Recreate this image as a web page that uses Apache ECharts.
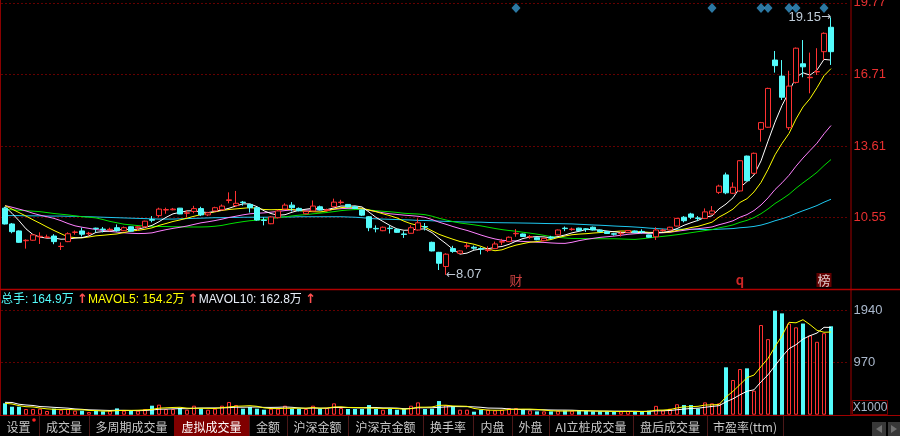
<!DOCTYPE html>
<html><head><meta charset="utf-8">
<script src="https://cdn.jsdelivr.net/npm/echarts@6/dist/echarts.min.js"></script>
<style>html,body{margin:0;padding:0;background:#000;}#c{width:900px;height:436px;}</style>
</head><body><div id="c"></div>
<script>
// ---------- data ----------
const opens  = [10.94,10.26,9.96,9.54,9.56,9.71,9.68,9.74,9.29,9.50,9.90,9.96,9.84,10.08,10.04,10.00,10.10,9.97,10.14,10.10,
 10.14,10.45,10.62,10.86,10.87,10.94,10.72,10.80,10.92,10.65,10.82,10.87,11.27,11.05,11.20,11.10,10.96,10.43,10.27,10.53,
 10.90,11.07,10.93,10.70,10.82,11.00,10.84,11.00,11.18,11.10,11.00,10.86,10.57,10.07,9.97,10.08,10.03,9.83,9.86,10.00,
 10.15,9.47,9.04,8.43,9.20,9.00,9.30,9.26,9.20,9.12,9.20,9.48,9.50,9.84,9.83,9.70,9.67,9.54,9.70,9.79,
 10.08,10.02,10.08,10.05,10.12,10.00,9.93,9.84,9.84,9.90,9.96,9.94,9.79,9.71,9.98,10.00,10.17,10.55,10.69,10.52,
 10.50,10.69,11.62,12.37,11.58,11.68,13.18,12.44,14.33,14.42,17.31,16.62,14.40,16.35,17.15,16.55,16.80,17.67,18.72];
const closes = [10.26,9.93,9.47,9.56,9.79,9.73,9.70,9.50,9.30,9.84,9.91,9.82,9.86,10.06,10.02,10.03,9.97,10.10,9.95,10.14,
 10.38,10.42,10.90,10.88,10.90,10.69,10.74,10.92,10.65,10.74,10.96,11.03,11.30,11.15,11.18,10.96,10.43,10.41,10.56,10.82,
 11.07,10.96,10.83,10.80,11.03,10.86,10.87,11.20,11.20,10.99,10.93,10.64,10.10,10.05,10.12,10.06,9.90,9.81,10.10,10.31,
 10.13,9.10,8.57,8.96,9.08,9.10,9.32,9.22,9.18,9.15,9.40,9.50,9.69,9.86,9.72,9.72,9.58,9.64,9.65,10.00,
 10.06,10.04,9.97,10.03,10.00,9.93,9.85,9.82,9.86,9.98,9.90,9.92,9.69,10.00,10.00,10.12,10.50,10.40,10.55,10.50,
 10.78,10.82,11.89,11.60,11.84,12.98,12.12,13.30,14.62,16.09,17.07,15.71,16.19,17.82,17.02,16.57,16.82,18.46,17.67];
const lows   = [10.24,9.86,9.45,9.20,9.54,9.40,9.65,9.39,9.14,9.48,9.80,9.72,9.75,9.90,9.90,9.95,9.93,9.95,9.93,9.97,
 10.10,10.33,10.55,10.70,10.85,10.68,10.55,10.72,10.60,10.60,10.80,10.85,11.15,11.00,11.05,10.75,10.40,10.20,10.25,10.50,
 10.88,10.80,10.80,10.68,10.80,10.84,10.80,10.98,11.10,10.97,10.90,10.60,9.95,9.90,9.95,9.85,9.88,9.66,9.85,9.98,
 9.98,9.08,8.28,8.07,9.02,8.97,9.20,9.15,8.95,9.05,9.18,9.35,9.48,9.71,9.70,9.62,9.56,9.52,9.60,9.77,
 9.95,9.97,9.95,9.92,9.98,9.90,9.83,9.76,9.72,9.88,9.88,9.85,9.67,9.57,9.92,9.98,10.15,10.33,10.47,10.38,
 10.47,10.67,11.55,11.54,11.55,11.65,12.10,12.40,13.80,14.40,16.77,15.59,14.30,16.30,16.57,15.88,16.67,17.31,17.10];
const highs  = [11.00,10.30,9.98,9.60,9.82,9.90,9.80,9.82,9.47,9.90,9.98,10.10,9.92,10.10,10.13,10.10,10.24,10.15,10.16,10.16,
 10.40,10.60,10.96,10.96,10.95,10.95,10.85,11.04,11.00,10.78,11.00,11.10,11.62,11.68,11.25,11.12,10.98,10.55,10.60,10.87,
 11.15,11.20,10.97,10.82,11.27,11.05,10.92,11.35,11.30,11.12,11.02,10.88,10.60,10.20,10.15,10.20,10.05,9.95,10.20,10.50,
 10.30,9.50,9.06,9.00,9.32,9.12,9.44,9.33,9.26,9.30,9.50,9.62,9.72,10.04,9.85,9.78,9.69,9.66,9.75,10.02,
 10.15,10.10,10.10,10.08,10.15,10.02,9.95,9.88,9.95,10.00,9.98,10.03,9.80,10.12,10.05,10.14,10.52,10.60,10.74,10.60,
 10.93,11.03,11.95,12.47,12.05,13.00,13.20,13.33,14.65,16.12,17.70,17.31,16.85,17.85,18.17,17.63,17.82,18.50,19.15];
// volume, unit: 1000 lots (X1000)
const volumes = [213,149,149,106,106,112,69,112,93,106,75,75,50,75,62,75,118,75,75,75,
 106,168,187,106,106,124,93,168,112,93,112,168,237,180,112,143,112,93,112,112,
 168,112,112,106,168,112,124,212,124,106,106,106,180,106,93,106,93,106,168,230,
 106,112,255,180,162,93,93,56,93,93,81,93,124,124,100,81,62,62,62,75,
 75,75,69,69,62,62,62,50,62,69,62,50,75,165,80,112,195,180,180,115,
 230,212,212,884,647,852,865,448,1673,1410,1940,1890,1700,1630,1700,1480,1360,1521,1649];
// moving-average values before enough bars are on screen
const ma5Head  = [11.00,10.72,10.40,10.05];
const ma10Head = [11.05,10.90,10.75,10.60,10.44,10.29,10.13,9.98,9.84];
const ma20Head = [11.05,10.98,10.90,10.82,10.72,10.64,10.57,10.50,10.40,10.28,10.18,10.12,10.07,10.02,9.98,9.94,9.91,9.88,9.86];
const ma30Head = [10.89,10.87,10.85,10.83,10.81,10.79,10.75,10.71,10.68,10.65,10.61,10.57,10.55,10.52,10.45,10.37,10.31,10.25,10.22,10.19,
 10.17,10.16,10.15,10.15,10.14,10.14,10.13,10.13,10.13];
const ma60Head = [10.62,10.62,10.62,10.61,10.61,10.61,10.60,10.60,10.60,10.59,10.59,10.58,10.57,10.56,
 10.55,10.54,10.53,10.52,10.51,10.50,10.49,10.48,10.47,10.47,10.47,10.48,10.49,10.50,
 10.51,10.52,10.53,10.53,10.54,10.54,10.55,10.55,10.55,10.55,10.55,10.56,10.56,10.56,
 10.57,10.57,10.57,10.57,10.57,10.57,10.57,10.56,10.55,10.53,10.50,10.48,10.47,10.46,10.45,10.44,10.43];
const mavol5Head  = [212,200,168,149];
const mavol10Head = [231,228,195,181,172,152,146,137,130];
const priceTicks = [10.55,13.61,16.71,19.77];
const volTicks = [970,1940];
const signalDays = [73,101,108,109,112,113,117];
const eventLabels = [{day:73,text:'财'},{day:105,text:'q'},{day:117,text:'榜'}];
const lowMark  = {day:63, value:8.07};
const highMark = {day:118, value:19.15};
const tabs = ['设置','成交量','多周期成交量','虚拟成交量','金额','沪深金额','沪深京金额','换手率','内盘','外盘','AI立桩成交量','盘后成交量','市盈率(ttm)'];
const activeTab = '虚拟成交量';

// ---------- styles ----------
const RED = '#ff3232', CYAN = '#54fcfc', GRIDRED = '#a00000', DOTRED = '#c80000';
const FONT = '"Liberation Sans", Arial, "Noto Sans CJK SC", sans-serif';
const CJK = '"Noto Sans CJK SC", "Liberation Sans", sans-serif';
const signalLevel = 19.55, eventLevel = 7.85;
const tabX = [0,39,89,174,249,287,348,423,473,512,549,633,707,783];

// ---------- build ----------
const N = opens.length;
const cats = Array.from({length: N + 2}, (_, i) => String(i));
function movingAvg(vals, n, head) {
  return vals.map((v, i) => {
    if (i < n - 1) return head[i];
    let s = 0; for (let k = i - n + 1; k <= i; k++) s += vals[k];
    return +(s / n).toFixed(3);
  });
}
const candle = opens.map((o, i) => [o, closes[i], lows[i], highs[i]]);
const isUp = i => closes[i] >= opens[i];
const volData = volumes.map((v, i) => ({
  value: v,
  itemStyle: isUp(i) ? {color: '#000', borderColor: RED, borderWidth: 1} : {color: CYAN, borderWidth: 0}
}));
const mavol5 = movingAvg(volumes, 5, mavol5Head);
const mavol10 = movingAvg(volumes, 10, mavol10Head);
const fmtWan = v => (v / 10).toFixed(1) + '万';

function maLine(name, data, color) {
  return {name, type: 'line', xAxisIndex: 0, yAxisIndex: 0, data, symbol: 'none', silent: true,
    lineStyle: {color, width: 1}, z: 3};
}

const graphic = [];
// frame lines
graphic.push({type:'line', shape:{x1:0.5,y1:0,x2:0.5,y2:415}, style:{stroke:'#8a0000', lineWidth:1}});
graphic.push({type:'line', shape:{x1:851,y1:0,x2:851,y2:415}, style:{stroke:GRIDRED, lineWidth:1}});
graphic.push({type:'line', shape:{x1:0,y1:289.5,x2:900,y2:289.5}, style:{stroke:'#b00000', lineWidth:1.5}});
graphic.push({type:'line', shape:{x1:0,y1:415.5,x2:900,y2:415.5}, style:{stroke:GRIDRED, lineWidth:1}});
// volume legend
graphic.push({type:'text', left:1, top:293, style:{
  text: '{a|总手: ' + fmtWan(volumes[N-1]) + ' }{r|↑}{b|MAVOL5: ' + fmtWan(mavol5[N-1]) + ' }{r|↑}{c|MAVOL10: ' + fmtWan(mavol10[N-1]) + ' }{r|↑}',
  rich: {
    a:{fill:CYAN, fontSize:12, fontFamily:FONT},
    b:{fill:'#ffff00', fontSize:12, fontFamily:FONT},
    c:{fill:'#e8eef8', fontSize:12, fontFamily:FONT},
    r:{fill:'#ff5050', fontSize:13, fontWeight:'bold', fontFamily:'DejaVu Sans'}
  }}});
// X1000 box
graphic.push({type:'rect', shape:{x:852.5,y:400.5,width:35,height:14}, style:{fill:'#000', stroke:'#7a0000', lineWidth:1}});
graphic.push({type:'text', x:870, y:408, style:{text:'X1000', fill:'#aab8cc', fontSize:12, fontFamily:FONT, align:'center', verticalAlign:'middle'}});
// tab bar
tabs.forEach((t, k) => {
  const x0 = tabX[k], x1 = tabX[k+1];
  if (t === activeTab) graphic.push({type:'rect', shape:{x:x0, y:416, width:x1 - x0, height:20}, style:{fill:'#800000'}});
  graphic.push({type:'text', x:(x0 + x1) / 2 + (k === 0 ? -1 : 0), y:427, style:{text:t, fill: t === activeTab ? '#ffffff' : '#c8c8c8',
    fontSize:12, fontFamily:CJK, align:'center', verticalAlign:'middle'}});
  graphic.push({type:'line', shape:{x1:x1 + 0.5, y1:416, x2:x1 + 0.5, y2:436}, style:{stroke:'#4a1818', lineWidth:1}});
});
graphic.push({type:'circle', shape:{cx:34, cy:420, r:1.8}, style:{fill:'#ff2020'}});
graphic.push({type:'rect', shape:{x:872, y:422, width:14, height:14}, style:{fill:'#383838'}});
graphic.push({type:'rect', shape:{x:888, y:422, width:12, height:14}, style:{fill:'#383838'}});
graphic.push({type:'polygon', shape:{points:[[876,429],[882,425],[882,433]]}, style:{fill:'#707070'}});
graphic.push({type:'polygon', shape:{points:[[897,429],[891,425],[891,433]]}, style:{fill:'#707070'}});

const gridLine = {color: DOTRED, type: [1, 3], width: 1};
const option = {
  backgroundColor: '#000',
  animation: false,
  grid: [
    {left: 1.5, right: 51.5, top: 0, height: 289},
    {left: 1.5, right: 51.5, top: 300, height: 114.7}
  ],
  xAxis: [
    {type: 'category', gridIndex: 0, data: cats, show: false, boundaryGap: true},
    {type: 'category', gridIndex: 1, data: cats, show: false, boundaryGap: true}
  ],
  yAxis: [
    {type: 'value', gridIndex: 0, min: 7.463, max: 19.893, show: false},
    {type: 'value', gridIndex: 1, min: 0, max: 2139.6, show: false}
  ],
  series: [
    {
      name: 'K', type: 'candlestick', xAxisIndex: 0, yAxisIndex: 0, data: candle, barWidth: 5, z: 4,
      itemStyle: {color: '#000', color0: CYAN, borderColor: RED, borderColor0: CYAN, borderWidth: 1},
      markLine: {
        silent: true, symbol: ['none', 'none'], z: 1,
        lineStyle: gridLine,
        label: {position: 'end', distance: 5, color: '#e83030', fontSize: 13, fontFamily: FONT,
          formatter: p => p.value.toFixed(2)},
        data: priceTicks.map(v => ({yAxis: v}))
      },
      markPoint: {
        silent: true, symbol: 'circle', symbolSize: 0,
        data: [
          {coord: [String(lowMark.day), lowMark.value], label: {show: true, position: 'right', distance: 0,
            formatter: '{a|←}{b|' + lowMark.value.toFixed(2) + '}',
            rich: {a: {color: '#c0c8d4', fontSize: 12, fontFamily: 'DejaVu Sans'}, b: {color: '#c0ccd8', fontSize: 13, fontFamily: FONT}}}},
          {coord: [String(highMark.day), highMark.value], label: {show: true, position: 'left', distance: 0,
            formatter: '{b|' + highMark.value.toFixed(2) + '}{a|→}',
            rich: {a: {color: '#c0c8d4', fontSize: 12, fontFamily: 'DejaVu Sans'}, b: {color: '#c0ccd8', fontSize: 13, fontFamily: FONT}}}}
        ]
      }
    },
    maLine('MA60', movingAvg(closes, 60, ma60Head), '#1ec8f0'),
    maLine('MA30', movingAvg(closes, 30, ma30Head), '#00e000'),
    maLine('MA20', movingAvg(closes, 20, ma20Head), '#ff80ff'),
    maLine('MA10', movingAvg(closes, 10, ma10Head), '#ffff00'),
    maLine('MA5', movingAvg(closes, 5, ma5Head), '#ffffff'),
    {
      name: 'signal', type: 'scatter', xAxisIndex: 0, yAxisIndex: 0, silent: true,
      data: signalDays.map(d => [String(d), signalLevel]), symbol: 'diamond', symbolSize: [9, 10],
      itemStyle: {color: '#3796cc'}, z: 5
    },
    {
      name: 'events', type: 'scatter', xAxisIndex: 0, yAxisIndex: 0, silent: true, symbolSize: 1,
      itemStyle: {color: 'rgba(0,0,0,0)'}, z: 6,
      data: eventLabels.map(e => ({
        value: [String(e.day), eventLevel],
        label: {show: true, position: 'inside', formatter: e.text, fontFamily: CJK, fontSize: 13,
          color: e.text === '榜' ? '#ffffff' : (e.text === 'q' ? '#ff3030' : '#ff5050'),
          fontWeight: e.text === 'q' ? 'bold' : 'normal',
          backgroundColor: e.text === '榜' ? '#7a0000' : 'transparent', padding: [1, 1, 0, 1]}
      }))
    },
    {
      name: 'VOL', type: 'bar', xAxisIndex: 1, yAxisIndex: 1, data: volData, barWidth: 4, z: 3,
      markLine: {
        silent: true, symbol: ['none', 'none'], z: 1,
        lineStyle: gridLine,
        label: {position: 'end', distance: 5, color: '#aab8cc', fontSize: 13, fontFamily: FONT, formatter: p => String(p.value)},
        data: volTicks.map(v => ({yAxis: v}))
      }
    },
    {name: 'MAVOL10', type: 'line', xAxisIndex: 1, yAxisIndex: 1, data: mavol10, symbol: 'none', silent: true,
      lineStyle: {color: '#ffffff', width: 1}, z: 4},
    {name: 'MAVOL5', type: 'line', xAxisIndex: 1, yAxisIndex: 1, data: mavol5, symbol: 'none', silent: true,
      lineStyle: {color: '#ffff00', width: 1}, z: 4}
  ],
  graphic
};
const chart = echarts.init(document.getElementById('c'), null, {renderer: 'canvas'});
chart.setOption(option);
</script>
</body></html>
